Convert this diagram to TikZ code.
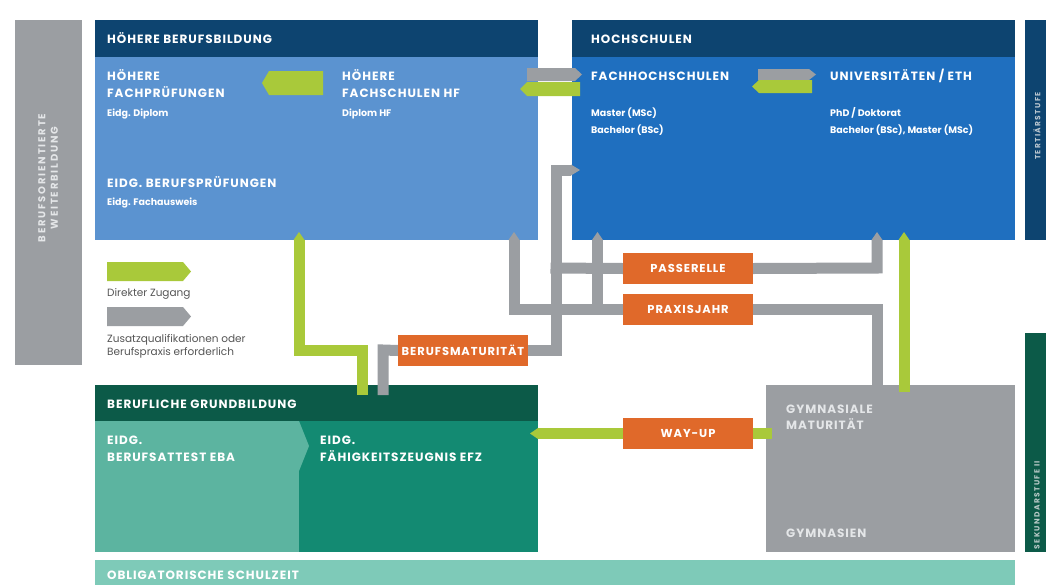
\documentclass[tikz,border=0pt]{standalone}
\usepackage{fontspec}
\setmainfont{Poppins}
\newfontfamily\capfont[LetterSpace=8]{Poppins}
\newfontfamily\widefont[LetterSpace=18]{Poppins}
\usetikzlibrary{calc}
\definecolor{navy}{HTML}{0D4470}
\definecolor{hbbblue}{HTML}{5B93D0}
\definecolor{hsblue}{HTML}{1F6FBF}
\definecolor{grayA}{HTML}{9B9EA2}
\definecolor{lgreen}{HTML}{A9C93A}
\definecolor{orng}{HTML}{E0692A}
\definecolor{dgreen}{HTML}{0C5A48}
\definecolor{tealL}{HTML}{5CB4A0}
\definecolor{tealD}{HTML}{138A72}
\definecolor{tealP}{HTML}{7ECAB8}
\definecolor{txtgray}{HTML}{555555}
\definecolor{paletxt}{HTML}{E4E6E8}
\tikzset{
  blk/.style={anchor=north west, inner sep=0pt, outer sep=0pt, draw=none},
  ttl/.style={anchor=base west, inner sep=0pt, text=white, font=\capfont\bfseries\fontsize{12}{14}\selectfont},
  sub/.style={anchor=base west, inner sep=0pt, text=white, font=\bfseries\fontsize{9.5}{11}\selectfont},
  obox/.style={blk, fill=orng, minimum width=130pt, minimum height=31pt, text=white, font=\capfont\bfseries\fontsize{11.5}{13}\selectfont},
  leg/.style={anchor=base west, inner sep=0pt, text=txtgray, font=\fontsize{10.5}{12}\selectfont},
  vert/.style={rotate=90, inner sep=0pt, align=center},
  gy/.style={draw=grayA, line width=11pt, line join=miter},
  gr/.style={draw=lgreen, line width=11pt, line join=miter},
}
\begin{document}
\begin{tikzpicture}[x=1pt,y=-1pt]
\useasboundingbox (0,0) rectangle (1046,584);
\fill[white] (0,0) rectangle (1046,584);

% side bars
\node[blk, fill=grayA, minimum width=67pt, minimum height=345pt] (weiter) at (15,20) {};
\node[vert, text=paletxt, font=\widefont\bfseries\fontsize{10}{12.5}\selectfont] (weitert) at (48,178) {BERUFSORIENTIERTE\\WEITERBILDUNG};
\node[blk, fill=navy, minimum width=25pt, minimum height=220pt] (tert) at (1025,20) {};
\node[vert, text=paletxt!80!navy, font=\widefont\bfseries\fontsize{7.5}{9}\selectfont] (tertt) at (1037,126) {TERTIÄRSTUFE};
\node[blk, fill=dgreen, minimum width=25pt, minimum height=219pt] (sek) at (1025,333) {};
\node[vert, text=paletxt!80!dgreen, font=\widefont\bfseries\fontsize{7.5}{9}\selectfont] (sekt) at (1037,505) {SEKUNDARSTUFE II};

% Hoehere Berufsbildung
\node[blk, fill=navy, minimum width=443pt, minimum height=37pt] (hbbhead) at (95,20) {};
\node[blk, fill=hbbblue, minimum width=443pt, minimum height=183pt] (hbb) at (95,57) {};
\node[ttl] (hbbt) at (107,43) {HÖHERE BERUFSBILDUNG};
\node[ttl] (hfp) at (107,80) {HÖHERE};
\node[ttl] (hfp2) at (107,97) {FACHPRÜFUNGEN};
\node[sub] (hfps) at (107,116) {Eidg. Diplom};
\node[ttl] (hf) at (342,80) {HÖHERE};
\node[ttl] (hf2) at (342,97) {FACHSCHULEN HF};
\node[sub] (hfs) at (342,116) {Diplom HF};
\node[ttl] (bp) at (107,187) {EIDG. BERUFSPRÜFUNGEN};
\node[sub] (bps) at (107,205) {Eidg. Fachausweis};

% Hochschulen
\node[blk, fill=navy, minimum width=443pt, minimum height=37pt] (hshead) at (572,20) {};
\node[blk, fill=hsblue, minimum width=443pt, minimum height=183pt] (hs) at (572,57) {};
\node[ttl] (hst) at (591,43) {HOCHSCHULEN};
\node[ttl] (fh) at (591,80) {FACHHOCHSCHULEN};
\node[sub] (fhs1) at (591,116) {Master (MSc)};
\node[sub] (fhs2) at (591,133) {Bachelor (BSc)};
\node[ttl] (uni) at (830,80) {UNIVERSITÄTEN / ETH};
\node[sub] (unis1) at (830,116) {PhD / Doktorat};
\node[sub] (unis2) at (830,133) {Bachelor (BSc), Master (MSc)};

% Berufliche Grundbildung
\node[blk, fill=dgreen, minimum width=443pt, minimum height=36pt] (bghead) at (95,385) {};
\node[blk, fill=tealL, minimum width=204pt, minimum height=131pt] (eba) at (95,421) {};
\node[blk, fill=tealD, minimum width=239pt, minimum height=131pt] (efz) at (299,421) {};
\fill[tealL] (299,421) -- (309,446) -- (299,471) -- cycle;
\node[ttl] (bgt) at (107,408) {BERUFLICHE GRUNDBILDUNG};
\node[ttl] (ebat) at (107,444) {EIDG.};
\node[ttl] (ebat2) at (107,461) {BERUFSATTEST EBA};
\node[ttl] (efzt) at (320,444) {EIDG.};
\node[ttl] (efzt2) at (320,461) {FÄHIGKEITSZEUGNIS EFZ};

% Gymnasien
\node[blk, fill=grayA, minimum width=249pt, minimum height=167pt] (gym) at (766,385) {};
\node[ttl, text=paletxt] (gymt) at (786,413) {GYMNASIALE};
\node[ttl, text=paletxt] (gymt2) at (786,429) {MATURITÄT};
\node[ttl, text=paletxt] (gymt3) at (786,537) {GYMNASIEN};

% Obligatorische Schulzeit
\node[blk, fill=tealP, minimum width=920pt, minimum height=30pt] (obl) at (95,560) {};
\node[ttl] (oblt) at (107,579) {OBLIGATORISCHE SCHULZEIT};

% legend
\fill[lgreen] (107,262) -- (183,262) -- (191,271.5) -- (183,281) -- (107,281) -- cycle;
\node[leg] (leg1) at (107,296) {Direkter Zugang};
\fill[grayA] (107,307) -- (183,307) -- (191,316.5) -- (183,326) -- (107,326) -- cycle;
\node[leg] (leg2) at (107,342) {Zusatzqualifikationen oder};
\node[leg] (leg3) at (107,355) {Berufspraxis erforderlich};

% coordinates for connectors
\coordinate (xA) at (556,0);
\coordinate (xB) at (514,0);
\coordinate (xC) at (597.5,0);
\coordinate (xR) at (877,0);
\coordinate (xG) at (904,0);
\coordinate (yFH) at (0,170);
\coordinate (yP) at (0,268);
\coordinate (yX) at (0,309.5);
\coordinate (yM) at (0,350);

% orange box positions (named)
\node[obox] (bm) at (398,335) {};
\node[obox] (pass) at (623,253) {};
\node[obox] (prax) at (623,294) {};
\node[obox] (way) at (623,418) {};

% grey connectors
\draw[gy] (bm.east) -- (bm.east -| xA) -- (xA |- yFH) -- (571,170);
\fill[grayA] (571,164.5) -- (580,170) -- (571,175.5) -- cycle;
\draw[gy] (pass.west) -- (550.5,268);
\draw[gy] (pass.east) -- (xR |- yP) -- (877,240);
\fill[grayA] (871.5,240) -- (877,232) -- (882.5,240) -- cycle;
\draw[gy] (877,392) -- (xR |- yX) -- (prax.east);
\draw[gy] (prax.west) -- (xB |- yX) -- (514,240);
\fill[grayA] (508.5,240) -- (514,232) -- (519.5,240) -- cycle;
\draw[gy] (xC |- yX) -- (597.5,240);
\fill[grayA] (592,240) -- (597.5,232) -- (603,240) -- cycle;
\draw[gy] (383,395) -- (383,350) -- (bm.west);
% green connectors
\draw[gr] (362,395) -- (362,350) -- (299,350) -- (299,240);
\fill[lgreen] (293.5,240) -- (299,232) -- (304.5,240) -- cycle;
\draw[gr] (904,392) -- (904,240);
\fill[lgreen] (898.5,240) -- (904,232) -- (909.5,240) -- cycle;
\draw[gr] (772,433.5) -- (538,433.5);
\fill[lgreen] (538,428) -- (530,433.5) -- (538,439) -- cycle;

% orange boxes on top
\node[obox] (bmt) at (398,335) {BERUFSMATURITÄT};
\node[obox] (passt) at (623,253) {PASSERELLE};
\node[obox] (praxt) at (623,294) {PRAXISJAHR};
\node[obox] (wayt) at (623,418) {WAY-UP};

% arrows between boxes
\fill[lgreen] (262,83) -- (269,71) -- (323,71) -- (323,95) -- (269,95) -- cycle;
\fill[grayA] (527,68) -- (575,68) -- (582,74.5) -- (575,81) -- (527,81) -- cycle;
\fill[lgreen] (520,89) -- (527,82) -- (580,82) -- (580,96) -- (527,96) -- cycle;
\fill[grayA] (758,69) -- (809,69) -- (816,74.5) -- (809,80) -- (758,80) -- cycle;
\fill[lgreen] (752,86.5) -- (759,80) -- (812,80) -- (812,93) -- (759,93) -- cycle;
\end{tikzpicture}
\end{document}
